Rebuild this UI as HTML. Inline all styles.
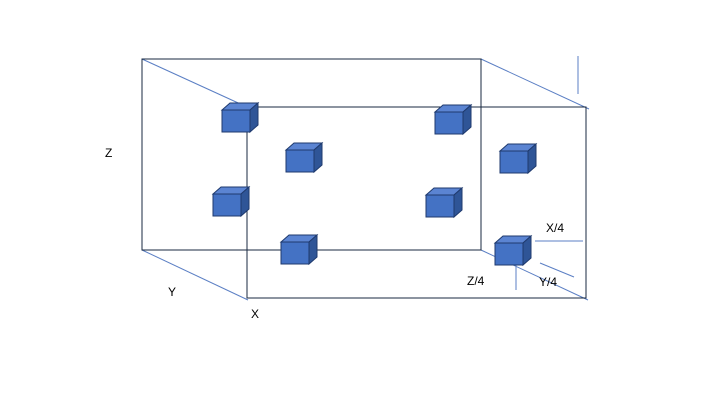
<!DOCTYPE html>
<html><head><style>body{margin:0;background:#fff}svg{display:block}text{font-family:"Liberation Sans",sans-serif;font-size:12px;fill:#000}</style></head>
<body>
<svg width="720" height="405" viewBox="0 0 720 405">
<defs>
<g id="c">
<polygon points="0,0 8,-7 36,-7 28,0" fill="#5b84d2" stroke="#1f3a6e" stroke-width="1"/>
<polygon points="28,0 36,-7 36,15 28,22" fill="#2f5597" stroke="#1f3a6e" stroke-width="1"/>
<rect x="0" y="0" width="28" height="22" fill="#4472c4" stroke="#1f3a6e" stroke-width="1"/>
</g>
</defs>
<g stroke="#5b7fc4" stroke-width="1">
<line x1="142" y1="59" x2="247" y2="107"/>
<line x1="481" y1="59" x2="589" y2="109"/>
<line x1="142" y1="250" x2="248" y2="300"/>
<line x1="481" y1="250" x2="588" y2="300"/>
<line x1="578" y1="56" x2="578" y2="94"/>
<line x1="535" y1="241" x2="583" y2="241"/>
<line x1="540" y1="263" x2="574" y2="277"/>
<line x1="516" y1="264" x2="516" y2="290"/>
</g>
<rect x="142" y="59" width="339" height="191" fill="none" stroke="#1a2a40" stroke-width="1"/>
<rect x="247" y="107" width="339" height="191" fill="none" stroke="#1a2a40" stroke-width="1"/>
<use href="#c" x="222" y="110"/>
<use href="#c" x="286" y="150"/>
<use href="#c" x="213" y="194"/>
<use href="#c" x="281" y="242"/>
<use href="#c" x="435" y="112"/>
<use href="#c" x="500" y="151"/>
<use href="#c" x="426" y="195"/>
<use href="#c" x="495" y="243"/>
<text x="105" y="157">Z</text>
<text x="168" y="296">Y</text>
<text x="251" y="318">X</text>
<text x="546" y="232">X/4</text>
<text x="467" y="285">Z/4</text>
<text x="539" y="286">Y/4</text>
</svg>
</body></html>
